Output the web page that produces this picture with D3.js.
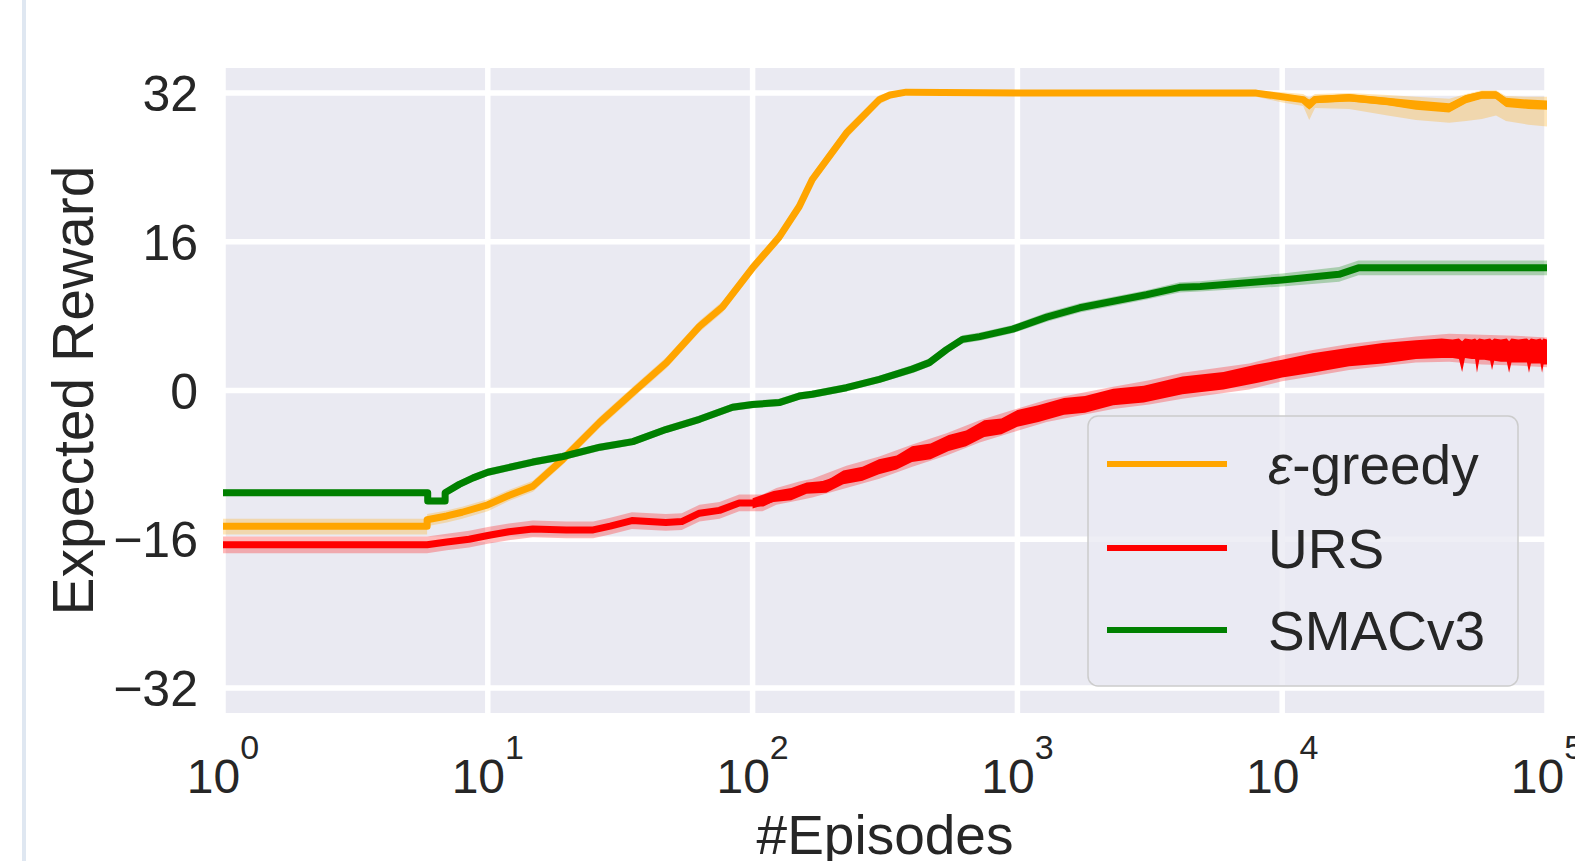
<!DOCTYPE html>
<html>
<head>
<meta charset="utf-8">
<script src="https://cdn.jsdelivr.net/npm/d3@7"></script>
<style>
  body { margin: 0; background: #fff; }
  svg { display: block; font-family: "Liberation Sans", Arial, sans-serif; }
</style>
</head>
<body>
<script>
// ---- data ----
var xTicks = [1, 10, 100, 1000, 10000, 100000];
var yTicks = [-32, -16, 0, 16, 32];

// epsilon-greedy
var greedyEp   = [1, 5.9, 5.9, 7, 8, 10, 12, 14.8, 19.2, 26.5, 35.3, 47.3, 63, 77, 100, 126, 150, 168, 226, 301, 330, 380, 1000, 3000, 7980, 10000, 12000, 12650, 13300, 17900, 25000, 32000, 42700, 49500, 56800, 64200, 70000, 85000, 100000];
var greedyMean = [-14.6, -14.6, -13.9, -13.5, -13.1, -12.3, -11.3, -10.3, -7.4, -3.4, -0.2, 3.0, 6.9, 9.0, 13.2, 16.5, 19.8, 22.7, 27.7, 31.3, 31.8, 32.1, 32.0, 32.0, 32.0, 31.6, 31.3, 30.7, 31.3, 31.5, 31.1, 30.7, 30.4, 31.4, 31.8, 31.8, 31.0, 30.8, 30.7];
var greedyLo   = [-15.5, -15.5, -14.6, -14.2, -13.8, -13.0, -11.9, -10.9, -8.0, -4.0, -0.8, 2.4, 6.3, 8.4, 12.6, 15.9, 19.2, 22.1, 27.1, 30.8, 31.4, 31.8, 31.7, 31.7, 31.6, 31.0, 30.6, 29.1, 30.4, 30.3, 29.6, 29.1, 28.8, 29.0, 29.2, 29.6, 29.0, 28.6, 28.4];
var greedyHi   = [-13.8, -13.8, -13.3, -12.9, -12.5, -11.7, -10.7, -9.7, -6.8, -2.8, 0.4, 3.6, 7.5, 9.6, 13.8, 17.1, 20.4, 23.3, 28.3, 31.8, 32.1, 32.4, 32.3, 32.3, 32.3, 32.1, 31.9, 31.5, 31.9, 32.0, 31.8, 31.6, 31.4, 31.9, 32.3, 32.3, 31.7, 31.6, 31.6];
// spread of the noisy mean line itself near the end
var greedyEnvEp = [7980, 10000, 12000, 12650, 13300, 17900, 25000, 32000, 42700, 49500, 56800, 64200, 70000, 85000, 100000];
var greedyEnvLo = [31.8, 31.3, 31.0, 30.2, 30.9, 31.1, 30.7, 30.2, 29.9, 30.9, 31.4, 31.4, 30.5, 30.3, 30.2];
var greedyEnvHi = [32.1, 31.9, 31.6, 31.3, 31.7, 31.9, 31.5, 31.2, 30.9, 31.8, 32.2, 32.2, 31.5, 31.3, 31.2];

// URS
var ursEp   = [1, 5.9, 7, 8.5, 10, 12, 14.8, 19.8, 25, 29, 35, 47, 54, 63, 75, 89, 109, 123, 150, 168, 226, 301, 401, 540, 720, 960, 1290, 1720, 2300, 3150, 4200, 7500, 10000, 13400, 17900, 23800, 32000, 42700, 56800, 76400, 100000];
var ursMean = [-16.6, -16.6, -16.3, -16.0, -15.6, -15.2, -14.9, -15.0, -15.0, -14.6, -14.0, -14.2, -14.1, -13.2, -12.9, -12.1, -12.1, -11.4, -10.8, -10.5, -9.3, -8.3, -7.0, -5.8, -4.4, -3.3, -2.2, -1.5, -0.8, -0.2, 0.5, 1.5, 2.4, 3.0, 3.6, 4.0, 4.4, 4.6, 4.4, 4.3, 4.1];
var ursErr  = [0.9, 0.9, 0.9, 0.9, 0.9, 0.9, 0.9, 0.9, 0.9, 0.9, 0.9, 0.9, 0.9, 0.9, 0.9, 0.9, 0.9, 0.9, 1.0, 1.0, 1.2, 1.2, 1.2, 1.2, 1.2, 1.2, 1.2, 1.2, 1.2, 1.3, 1.4, 1.4, 1.4, 1.4, 1.4, 1.4, 1.4, 1.5, 1.6, 1.6, 1.6];
// min / max of the jittery mean line
var ursEnvEp = [100, 120, 140, 160, 190, 220, 260, 300, 350, 400, 470, 550, 640, 750, 870, 1000, 1200, 1500, 1800, 2300, 3000, 4200, 6000, 8000, 10000, 13000, 17900, 24000, 32000, 40000, 44000, 46500, 47800, 49000, 52000, 53500, 54400, 55500, 58000, 61000, 62000, 63200, 67000, 70500, 71900, 73400, 78000, 84000, 85500, 87000, 91000, 94500, 95800, 97000, 100000];
var ursEnvLo = [-12.7, -12.0, -11.8, -11.1, -11.0, -10.1, -9.7, -9.0, -8.5, -7.7, -7.4, -6.5, -6.0, -5.0, -4.7, -3.9, -3.4, -2.6, -2.4, -1.6, -1.3, -0.4, 0.1, 0.8, 1.4, 1.9, 2.6, 2.9, 3.4, 3.5, 3.5, 3.4, 2.0, 3.5, 3.4, 3.4, 1.9, 3.3, 3.3, 3.2, 2.2, 3.2, 3.1, 3.1, 1.9, 3.0, 3.0, 3.0, 1.9, 2.9, 2.9, 2.9, 1.9, 2.8, 2.8];
var ursEnvHi = [-11.6, -10.8, -10.5, -9.9, -9.7, -8.6, -8.2, -7.4, -7.0, -6.0, -5.7, -4.8, -4.3, -3.2, -3.0, -2.1, -1.6, -0.8, -0.6, 0.2, 0.5, 1.5, 2.0, 2.8, 3.3, 4.0, 4.6, 5.1, 5.4, 5.6, 5.5, 5.6, 5.3, 5.6, 5.5, 5.6, 5.4, 5.6, 5.5, 5.6, 5.4, 5.6, 5.5, 5.6, 5.3, 5.6, 5.5, 5.6, 5.4, 5.6, 5.5, 5.6, 5.4, 5.6, 5.5];

// SMACv3
var smacEp   = [1, 5.93, 5.93, 6.9, 6.9, 7.8, 8.8, 10, 14.8, 19.2, 26.5, 35.3, 47, 63, 84, 100, 126, 150, 168, 226, 301, 401, 465, 540, 620, 720, 960, 1290, 1720, 2300, 3070, 4100, 4900, 10000, 16400, 19400, 100000];
var smacMean = [-11.0, -11.0, -11.9, -11.9, -11.0, -10.1, -9.4, -8.8, -7.7, -7.1, -6.1, -5.5, -4.2, -3.1, -1.8, -1.5, -1.3, -0.6, -0.4, 0.3, 1.2, 2.3, 3.0, 4.4, 5.5, 5.8, 6.6, 7.9, 8.9, 9.6, 10.3, 11.1, 11.2, 11.9, 12.5, 13.2, 13.2];
var smacErr  = [0.35, 0.35, 0.35, 0.35, 0.35, 0.4, 0.4, 0.4, 0.4, 0.4, 0.4, 0.4, 0.4, 0.4, 0.4, 0.4, 0.4, 0.4, 0.4, 0.4, 0.4, 0.45, 0.45, 0.45, 0.45, 0.45, 0.45, 0.5, 0.5, 0.5, 0.5, 0.55, 0.55, 0.7, 0.8, 0.8, 0.8];

var width = 1575,
    height = 861;

var svg = d3.select("body").append("svg")
    .attr("width", width)
    .attr("height", height);

// thin light border on the left of the screenshot
svg.append("rect")
  .attr("x", 22).attr("y", 0)
  .attr("width", 4).attr("height", height)
  .attr("fill", "#dfe7f1");

var x = d3.scaleLog().domain([1, 1e5]).range([223, 1547]);
var y = d3.scaleLinear().domain([-34.7, 34.7]).range([713, 68]);

svg.append("defs").append("clipPath").attr("id", "clip")
  .append("rect")
  .attr("x", x.range()[0]).attr("y", y.range()[1])
  .attr("width", x.range()[1] - x.range()[0])
  .attr("height", y.range()[0] - y.range()[1]);

svg.append("rect")
  .attr("x", x.range()[0]).attr("y", y.range()[1])
  .attr("width", x.range()[1] - x.range()[0])
  .attr("height", y.range()[0] - y.range()[1])
  .attr("fill", "#eaeaf2");

// grid
var grid = svg.append("g").attr("class", "grid");
grid.selectAll("line.v").data(xTicks).enter().append("line")
  .attr("x1", d => x(d)).attr("x2", d => x(d))
  .attr("y1", y.range()[1]).attr("y2", y.range()[0])
  .attr("stroke", "#fff").attr("stroke-width", 5.5);
grid.selectAll("line.h").data(yTicks).enter().append("line")
  .attr("y1", d => y(d)).attr("y2", d => y(d))
  .attr("x1", x.range()[0]).attr("x2", x.range()[1])
  .attr("stroke", "#fff").attr("stroke-width", 5.5);

var plot = svg.append("g").attr("clip-path", "url(#clip)");

function zip(ep, a, b) {
  return ep.map(function(e, i) { return { e: e, a: a[i], b: b === undefined ? a[i] : b[i] }; });
}

var band = d3.area()
  .x(d => x(d.e))
  .y0(d => y(d.a))
  .y1(d => y(d.b));

var line = d3.line()
  .x(d => x(d.e))
  .y(d => y(d.a));

function drawSeries(color, ep, lo, hi, mean, envEp, envLo, envHi) {
  plot.append("path")
    .datum(zip(ep, lo, hi))
    .attr("d", band)
    .attr("fill", color)
    .attr("fill-opacity", 0.28);
  if (envEp) {
    plot.append("path")
      .datum(zip(envEp, envLo, envHi))
      .attr("d", band)
      .attr("fill", color);
  }
  plot.append("path")
    .datum(zip(ep, mean))
    .attr("d", line)
    .attr("fill", "none")
    .attr("stroke", color)
    .attr("stroke-width", 7)
    .attr("stroke-linejoin", "round");
}

drawSeries("#ffa500", greedyEp, greedyLo, greedyHi, greedyMean, greedyEnvEp, greedyEnvLo, greedyEnvHi);
drawSeries("#ff0000", ursEp,
  ursMean.map((m, i) => m - ursErr[i]), ursMean.map((m, i) => m + ursErr[i]),
  ursMean, ursEnvEp, ursEnvLo, ursEnvHi);
drawSeries("#008000", smacEp,
  smacMean.map((m, i) => m - smacErr[i]), smacMean.map((m, i) => m + smacErr[i]),
  smacMean);

// y tick labels
svg.append("g").selectAll("text").data(yTicks).enter().append("text")
  .attr("x", 198)
  .attr("y", d => y(d))
  .attr("dy", "0.36em")
  .attr("text-anchor", "end")
  .attr("fill", "#262626")
  .style("font-size", "50px")
  .text(d => d < 0 ? "\u2212" + Math.abs(d) : d);

// x tick labels 10^k
var xl = svg.append("g").selectAll("text").data(xTicks).enter().append("text")
  .attr("x", d => x(d))
  .attr("y", 793)
  .attr("text-anchor", "middle")
  .attr("fill", "#262626");
xl.append("tspan").style("font-size", "48px").text("10");
xl.append("tspan").style("font-size", "34px").attr("dy", -34)
  .text(d => Math.round(Math.log10(d)));

// axis labels
svg.append("text")
  .attr("transform", "translate(72," + y(0) + ") rotate(-90)")
  .attr("dy", "0.36em")
  .attr("text-anchor", "middle")
  .attr("fill", "#262626")
  .style("font-size", "57px")
  .text("Expected Reward");

svg.append("text")
  .attr("x", (x.range()[0] + x.range()[1]) / 2)
  .attr("y", 854)
  .attr("text-anchor", "middle")
  .attr("fill", "#262626")
  .style("font-size", "55px")
  .text("#Episodes");

// legend
var legendItems = [
  { name: "-greedy", eps: true, color: "#ffa500" },
  { name: "URS", color: "#ff0000" },
  { name: "SMACv3", color: "#008000" }
];
var legend = svg.append("g");
legend.append("rect")
  .attr("x", 1088).attr("y", 416)
  .attr("width", 430).attr("height", 270)
  .attr("rx", 10)
  .attr("fill", "#eaeaf2").attr("fill-opacity", 0.8)
  .attr("stroke", "#cccccc").attr("stroke-width", 1.5);
var rows = legend.selectAll("g.row").data(legendItems).enter().append("g")
  .attr("transform", (d, i) => "translate(0," + [464, 548, 630][i] + ")");
rows.append("line")
  .attr("x1", 1107).attr("x2", 1227)
  .attr("stroke", d => d.color).attr("stroke-width", 6);
var lt = rows.append("text")
  .attr("x", 1268)
  .attr("dy", "0.36em")
  .attr("fill", "#262626")
  .style("font-size", "55px");
lt.filter(d => d.eps).append("tspan").style("font-style", "italic").text("\u03b5");
lt.append("tspan").text(d => d.name);
</script>
</body>
</html>
